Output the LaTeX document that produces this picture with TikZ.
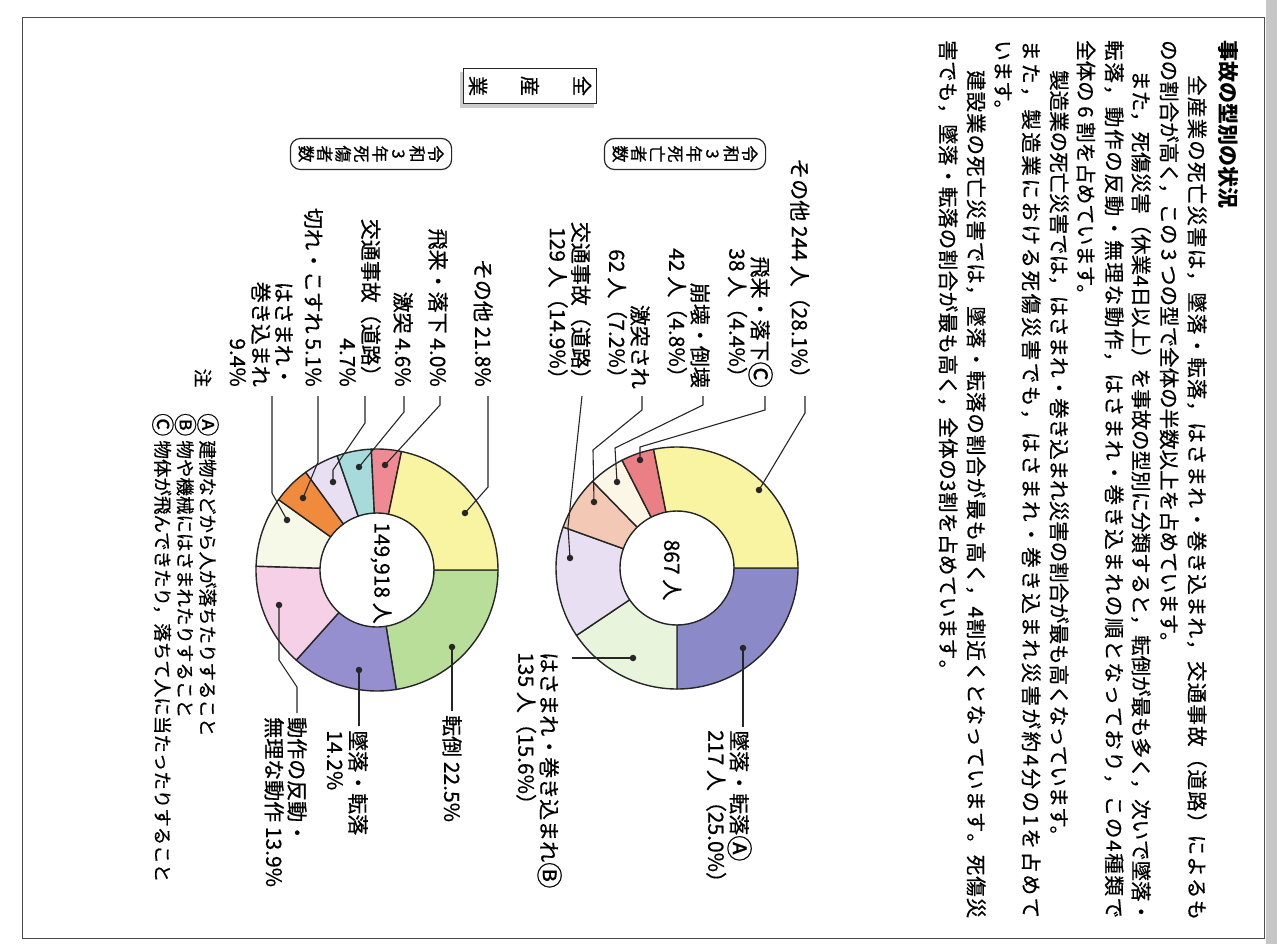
\documentclass[tikz,border=0pt]{standalone}
\usepackage{fontspec}
\usepackage{graphicx}
\newfontfamily\cjk[RawFeature={embolden=0.6}]{Noto Sans CJK JP}
\newfontfamily\cjkt{Noto Sans CJK JP}
\makeatletter
\def\spr@ad#1{\ifx#1\@nil\else#1\hskip0pt plus1fil\relax\expandafter\spr@ad\fi}
\newcommand\spreadline[2]{\hbox to #1{\spr@ad#2\@nil\unskip}}
\makeatother
\newcommand\cA{\raisebox{-0.08em}{\scalebox{1.25}{Ⓐ}}}
\newcommand\cB{\raisebox{-0.08em}{\scalebox{1.25}{Ⓑ}}}
\newcommand\cC{\raisebox{-0.08em}{\scalebox{1.25}{Ⓒ}}}
\definecolor{cyel}{HTML}{F8F4A2}
\definecolor{cblu}{HTML}{8C89C9}
\definecolor{cgrL}{HTML}{E8F4DC}
\definecolor{clav}{HTML}{E8E0F2}
\definecolor{cpea}{HTML}{F3C8B5}
\definecolor{ccre}{HTML}{FCF6E6}
\definecolor{cred}{HTML}{EB7F86}
\definecolor{cgrn}{HTML}{B8DE9A}
\definecolor{cpur}{HTML}{958FD0}
\definecolor{cpnk}{HTML}{F5D0E6}
\definecolor{ccr2}{HTML}{F6F8E8}
\definecolor{cora}{HTML}{F08B3E}
\definecolor{ccyn}{HTML}{A6DADB}
\definecolor{cre2}{HTML}{EF8A95}
\newcommand\Ro{121pt}
\newcommand\Ri{57pt}
\newcommand\seg[4]{%
  \filldraw[fill=#4, pieline] ([shift={(#2:\Ro)}]#1) arc[start angle=#2, end angle=#3, radius=\Ro]
   -- ([shift={(#3:\Ri)}]#1) arc[start angle=#3, end angle=#2, radius=\Ri] -- cycle;}
\tikzset{
  ptext/.style={rotate=-90, anchor=west, inner sep=0pt, font=\cjk\fontsize{20.5}{27}\selectfont},
  lab/.style={rotate=-90, inner sep=0pt, font=\cjk\fontsize{21}{23}\selectfont},
  labR/.style={lab, align=right, anchor=north east},
  labL/.style={lab, align=left, anchor=north west},
  pieline/.style={draw=black!85, line width=1.4pt, line join=round},
  leader/.style={draw=black!85, line width=1.1pt},
  dot/.style={circle, fill=black!85, inner sep=0pt, minimum size=6.5pt},
  pill/.style={rotate=-90, draw=black!85, line width=1.2pt, rounded corners=10pt, fill=white,
    align=center, inner xsep=7pt, inner ysep=8pt, font=\cjk\fontsize{17}{18.5}\selectfont},
}
\begin{document}
\begin{tikzpicture}[x=1pt, y=1pt]
\useasboundingbox (0,0) rectangle (1277,-944);
\fill[white] (0,0) rectangle (1277,-944);
\fill[gray!45] (1266,0) rectangle (1277,-944);
\draw[black!70, line width=1pt] (22,-18) rectangle (1264,-938);

% ---------- text ----------
\node[ptext, font=\cjkt\bfseries\fontsize{21}{21}\selectfont] (title) at (1228,-40) {事故の型別の状況};
\node[ptext] (p1) at (1197,-75) {\spreadline{845pt}{全産業の死亡災害は，墜落・転落，はさまれ・巻き込まれ，交通事故（道路）によるも}};
\node[ptext] (p2) at (1169,-40) {のの割合が高く，この 3 つの型で全体の半数以上を占めています。};
\node[ptext] (p3) at (1141,-70) {\spreadline{848pt}{また，死傷災害（休業4日以上）を事故の型別に分類すると，転倒が最も多く，次いで墜落・}};
\node[ptext] (p4) at (1114,-40) {\spreadline{878pt}{転落，動作の反動・無理な動作，はさまれ・巻き込まれの順となっており，この4種類で}};
\node[ptext] (p5) at (1086,-40) {全体の 6 割を占めています。};
\node[ptext] (p6) at (1059,-70) {製造業の死亡災害では，はさまれ・巻き込まれ災害の割合が最も高くなっています。};
\node[ptext] (p7) at (1031,-40) {\spreadline{878pt}{また，製造業における死傷災害でも，はさまれ・巻き込まれ災害が約4分の1を占めて}};
\node[ptext] (p8) at (1003,-40) {います。};
\node[ptext] (p9) at (976,-70) {\spreadline{848pt}{建設業の死亡災害では，墜落・転落の割合が最も高く，4割近くとなっています。死傷災}};
\node[ptext] (p10) at (948,-40) {\spreadline{640pt}{害でも，墜落・転落の割合が最も高く，全体の3割を占めています。}};

% ---------- side label ----------
\fill[gray!40] (460,-72) rectangle (594,-108);
\node[rotate=-90, draw=black!85, line width=1.2pt, fill=white, align=center, inner xsep=7.5pt, inner ysep=5pt,
  font=\cjk\fontsize{20}{52}\selectfont] (zen) at (530,-86) {全\\産\\業};

\node[pill] (pill1) at (685,-154) {令\\和\\3\\年\\死\\亡\\者\\数};
\node[pill] (pill2) at (371,-154) {令\\和\\3\\年\\死\\傷\\者\\数};

% ---------- pie 1 ----------
\coordinate (c1) at (677,-568);
\seg{c1}{0}{-90}{cblu}
\seg{c1}{-90}{-146.16}{cgrL}
\seg{c1}{-146.16}{-199.8}{clav}
\seg{c1}{-199.8}{-225.72}{cpea}
\seg{c1}{-225.72}{-243}{ccre}
\seg{c1}{-243}{-258.84}{cred}
\seg{c1}{-258.84}{-360}{cyel}
\node[lab] (t1) at (672,-570) {867 人};

% ---------- pie 2 ----------
\coordinate (c2) at (377,-570);
\seg{c2}{0}{-80.84}{cgrn}
\seg{c2}{-80.84}{-131.86}{cpur}
\seg{c2}{-131.86}{-181.8}{cpnk}
\seg{c2}{-181.8}{-215.57}{ccr2}
\seg{c2}{-215.57}{-233.89}{cora}
\seg{c2}{-233.89}{-250.78}{clav}
\seg{c2}{-250.78}{-267.31}{ccyn}
\seg{c2}{-267.31}{-281.68}{cre2}
\seg{c2}{-281.68}{-360}{cyel}
\node[lab] (t2) at (381,-573) {149,918 人};

% ---------- pie 1 labels ----------
\node[labR] (lA) at (810,-389) {その他 244 人（28.1\%）};
\node[labR] (lB) at (773,-388) {飛来・落下\cC\\38 人（4.4\%）};
\node[labR] (lC) at (710,-388) {崩壊・倒壊\\42 人（4.8\%）};
\node[labR] (lD) at (650,-389) {激突され\\62 人（7.2\%）};
\node[labR] (lE) at (591,-390) {交通事故（道路）\\129 人（14.9\%）};
\node[labL] (lF) at (562,-652) {はさまれ・巻き込まれ\cB\\135 人（15.6\%）};
\node[labL] (lG) at (752,-730) {墜落・転落\cA\\217 人（25.0\%）};

\node[dot] (dA) at (759,-490) {};
\node[dot] (dB) at (640,-460) {};
\node[dot] (dC) at (617,-482) {};
\node[dot] (dD) at (594,-502) {};
\node[dot] (dE) at (570,-558) {};
\node[dot] (dF) at (633,-658) {};
\node[dot] (dG) at (743,-648) {};

\coordinate (eA) at (805,-396);
\coordinate (eB) at (765,-396);
\coordinate (eC) at (703,-396);
\coordinate (eD) at (642,-396);
\coordinate (eE) at (582,-396);
\coordinate (eF) at (572,-658);
\coordinate (eG) at (743,-727);
\draw[leader] (dA.center) -- (805,-413) -- (eA);
\draw[leader] (dB.center) -- (640,-447) -- (765,-410) -- (eB);
\draw[leader] (dC.center) -- (615,-448) -- (703,-405) -- (eC);
\draw[leader] (dD.center) -- (593,-450) -- (642,-410) -- (eD);
\draw[leader] (dE.center) -- (568,-527) -- (eE);
\draw[leader] (dF.center) -- (eF);
\draw[leader] (dG.center) -- (eG);

% ---------- pie 2 labels ----------
\node[labR] (lH) at (493,-387) {その他 21.8\%};
\node[labR] (lI) at (448,-387) {飛来・落下 4.0\%};
\node[labR] (lJ) at (413,-387) {激突 4.6\%};
\node[labR] (lK) at (381,-387) {交通事故（道路）\\4.7\%};
\node[labR] (lL) at (323,-387) {切れ・こすれ 5.1\%};
\node[labR] (lM) at (293,-387) {はさまれ・\\巻き込まれ\\9.4\%};
\node[labL] (lN) at (462,-715) {転倒 22.5\%};
\node[labL] (lO) at (368,-730) {墜落・転落\\14.2\%};
\node[labL] (lP) at (307,-717) {動作の反動・\\無理な動作 13.9\%};

\node[dot] (dH) at (465,-513) {};
\node[dot] (dI) at (385,-465) {};
\node[dot] (dJ) at (359,-467) {};
\node[dot] (dK) at (333,-482) {};
\node[dot] (dL) at (303,-498) {};
\node[dot] (dM) at (287,-520) {};
\node[dot] (dN) at (452,-647) {};
\node[dot] (dO) at (359,-670) {};
\node[dot] (dP) at (279,-605) {};

\coordinate (eH) at (488,-396);
\coordinate (eI) at (440,-396);
\coordinate (eJ) at (404,-396);
\coordinate (eK) at (365,-396);
\coordinate (eL) at (318,-396);
\coordinate (eM) at (272,-396);
\coordinate (eN) at (452,-711);
\coordinate (eO) at (359,-726);
\coordinate (eP) at (297,-713);
\draw[leader] (dH.center) -- (488,-487) -- (eH);
\draw[leader] (dI.center) -- (440,-405) -- (eI);
\draw[leader] (dJ.center) -- (404,-412) -- (eJ);
\draw[leader] (dK.center) -- (333,-470) -- (365,-423) -- (eK);
\draw[leader] (dL.center) -- (318,-462) -- (eL);
\draw[leader] (dM.center) -- (272,-493) -- (eM);
\draw[leader] (dN.center) -- (eN);
\draw[leader] (dO.center) -- (eO);
\draw[leader] (dP.center) -- (279,-660) -- (297,-687) -- (eP);

% ---------- notes ----------
\node[rotate=-90, inner sep=0pt, font=\cjk\fontsize{18.5}{20}\selectfont] (chu) at (203,-378) {注};
\node[rotate=-90, inner sep=0pt, anchor=north west, align=left, font=\cjk\fontsize{18.5}{20}\selectfont] (notes) at (219,-413)
  {\cA\ 建物などから人が落ちたりすること\\\cB\ 物や機械にはさまれたりすること\\\cC\ 物体が飛んできたり，落ちて人に当たったりすること};
\end{tikzpicture}
\end{document}
